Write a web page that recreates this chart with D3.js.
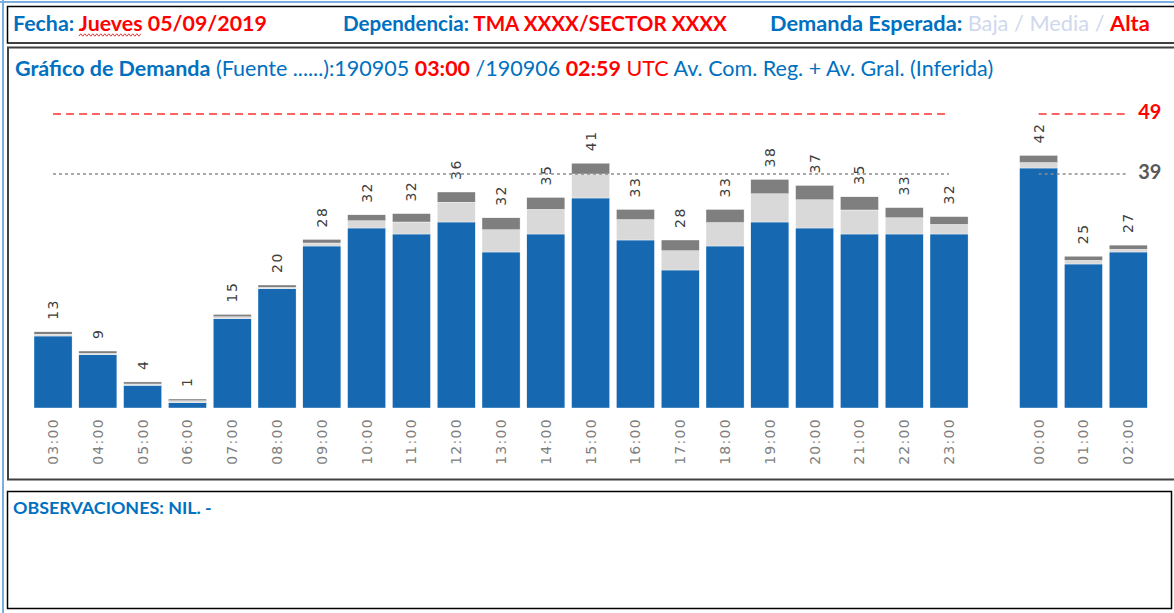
<!DOCTYPE html>
<html>
<head>
<meta charset="utf-8">
<title>Gráfico de Demanda</title>
<script src="https://d3js.org/d3.v7.min.js"></script>
<style>
  body { margin: 0; background: #fff; }
  svg { display: block; }
</style>
</head>
<body>
<svg id="chart" width="1174" height="613"></svg>
<script>
// horas del dia (03:00 UTC -> 02:59 UTC del dia siguiente)
const hours = ["03:00","04:00","05:00","06:00","07:00","08:00","09:00","10:00","11:00","12:00",
  "13:00","14:00","15:00","16:00","17:00","18:00","19:00","20:00","21:00","22:00","23:00",
  "00:00","01:00","02:00"];
// segmentos apilados
const avComReg = [12, 8.9, 3.8, 0.9, 14.9, 19.9, 27, 30, 29, 31, 26, 29, 35, 28, 23, 27, 31, 30, 29, 29, 29, 40, 24, 26];
const avGral   = [0.3, 0.2, 0.2, 0.3, 0.3, 0.2, 0.5, 1.2, 2, 3.3, 3.7, 4.1, 4, 3.4, 3.2, 3.9, 4.7, 4.7, 4, 2.7, 1.6, 0.9, 0.6, 0.45];
const inferida = [0.4, 0.4, 0.35, 0.3, 0.4, 0.4, 0.6, 1, 1.4, 1.7, 2, 2, 1.8, 1.7, 1.8, 2.2, 2.4, 2.4, 2.2, 1.7, 1.3, 1.2, 0.7, 0.7];
// etiquetas de total
const totals = [13, 9, 4, 1, 15, 20, 28, 32, 32, 36, 32, 35, 41, 33, 28, 33, 38, 37, 35, 33, 32, 42, 25, 27];
// umbrales
const thresholds = [49, 39];
const thresholdColors = ["#ff0000", "#595959"];

const BLUE = "#0070c0", RED = "#ff0000";
const svg = d3.select("#chart");
const font = "Lato, 'Open Sans', sans-serif";

// marcos
svg.append("line").attr("x1", 3).attr("x2", 3).attr("y1", 0).attr("y2", 613)
  .attr("stroke", "#7aaee0").attr("stroke-width", 2);
svg.append("line").attr("x1", 0).attr("x2", 1174).attr("y1", 2).attr("y2", 2)
  .attr("stroke", "#7aaee0").attr("stroke-width", 2);
svg.append("rect").attr("x", 7.5).attr("y", 6.5).attr("width", 1200).attr("height", 36.5)
  .attr("fill", "none").attr("stroke", "#000").attr("stroke-width", 1.5);
svg.append("rect").attr("x", 8).attr("y", 47.5).attr("width", 1200).attr("height", 432)
  .attr("fill", "none").attr("stroke", "#404040").attr("stroke-width", 2);
svg.append("rect").attr("x", 7.5).attr("y", 491.5).attr("width", 1164).attr("height", 117)
  .attr("fill", "none").attr("stroke", "#000").attr("stroke-width", 1.5);

// texto compuesto de varios tramos, ajustado a un ancho
function richText(x, y, parts, width, baseSize) {
  const t = svg.append("text").attr("x", x).attr("y", y)
    .style("font-family", font).style("font-size", baseSize + "px");
  parts.forEach(p => {
    t.append("tspan").text(p[0]).attr("fill", p[1])
      .style("font-weight", p[2] ? "bold" : "normal")
      .attr("xml:space", "preserve");
  });
  const w = t.node().getComputedTextLength();
  t.style("font-size", (baseSize * width / w) + "px");
  return t;
}

const fecha = richText(13, 31, [["Fecha: ", BLUE, 1], ["Jueves", RED, 1], [" 05/09/2019", RED, 1]], 254, 18);
richText(343, 31, [["Dependencia: ", BLUE, 1], ["TMA XXXX/SECTOR XXXX", RED, 1]], 384, 18);
richText(770, 31, [["Demanda Esperada: ", BLUE, 1], ["Baja / Media / ", "#d0d8ee", 0], ["Alta", RED, 1]], 380, 18);

// subrayado ondulado bajo "Jueves"
(function () {
  const n = fecha.node();
  const x0 = n.getStartPositionOfChar(7).x, x1 = n.getEndPositionOfChar(12).x;
  const pts = [];
  for (let xx = x0, k = 0; xx <= x1; xx += 2, k++) pts.push([xx, 35 + (k % 2 ? -1.2 : 1.2)]);
  svg.append("path").attr("d", d3.line()(pts)).attr("fill", "none")
    .attr("stroke", "#e03030").attr("stroke-width", 1);
})();

richText(15, 76, [["Gráfico de Demanda", BLUE, 1], [" (Fuente ......):190905 ", BLUE, 0], ["03:00", RED, 1],
  [" /190906 ", BLUE, 0], ["02:59", RED, 1], [" UTC ", RED, 0], ["Av. Com. Reg. + Av. Gral. (Inferida)", BLUE, 0]], 979, 18);

richText(13, 514, [["OBSERVACIONES: NIL. -", BLUE, 1]], 199, 15);

// escalas
const domain = hours.slice(0, 21).concat([""], hours.slice(21));
const x = d3.scaleBand().domain(domain).range([30.64, 1150.64]).paddingInner(0.15).paddingOuter(0.075);
const y = d3.scaleLinear().domain([0, 49]).range([408, 114]);

const rows = hours.map((h, i) => ({ hour: h, avComReg: avComReg[i], avGral: avGral[i], inferida: inferida[i], total: totals[i] }));
const keys = ["avComReg", "avGral", "inferida"];
const colors = { avComReg: "#1668b1", avGral: "#d9d9d9", inferida: "#7f7f7f" };
const series = d3.stack().keys(keys)(rows);

const g = svg.append("g");
g.selectAll("g.serie").data(series).enter().append("g").attr("class", "serie")
  .attr("fill", d => colors[d.key])
  .selectAll("rect").data(d => d).enter().append("rect")
  .attr("x", d => x(d.data.hour))
  .attr("width", x.bandwidth())
  .attr("y", d => y(d[1]))
  .attr("height", d => y(d[0]) - y(d[1]))
  .attr("stroke", "#ffffff").attr("stroke-width", 0.4);

// totales
g.selectAll("text.total").data(series[series.length - 1]).enter().append("text")
  .attr("class", "total")
  .attr("transform", d => "translate(" + (x(d.data.hour) + x.bandwidth() / 2) + "," + (y(d[1]) - 12) + ") rotate(-90)")
  .attr("dy", "0.35em")
  .style("font-family", "'DejaVu Sans', sans-serif").style("font-size", "14px")
  .style("letter-spacing", "1.5px")
  .attr("fill", "#404040")
  .text(d => d.data.total);

// eje x
const ax = svg.append("g").attr("transform", "translate(0,418)")
  .call(d3.axisBottom(x).tickValues(hours).tickSize(0).tickPadding(0));
ax.select(".domain").remove();
ax.selectAll("text")
  .attr("transform", "rotate(-90)")
  .attr("x", 0).attr("y", 0).attr("dy", "0.35em")
  .style("text-anchor", "end")
  .style("font-family", "'DejaVu Sans', sans-serif").style("font-size", "14px")
  .style("letter-spacing", "1.3px")
  .attr("fill", "#808080");

// lineas de umbral, cortadas en el hueco entre 23:00 y 00:00
const groups = [hours.slice(0, 21), hours.slice(21)];
const cx = h => x(h) + x.bandwidth() / 2;
thresholds.forEach((v, i) => {
  groups.forEach(grp => {
    svg.append("path")
      .attr("d", d3.line().x(cx).y(() => y(v))(grp))
      .attr("fill", "none")
      .attr("stroke", i === 0 ? "#ff3030" : "#8c8c8c")
      .attr("stroke-width", 1.3)
      .attr("stroke-dasharray", i === 0 ? "8,5" : "3,3");
  });
  svg.append("text")
    .attr("x", cx(hours[hours.length - 1]) + 10)
    .attr("y", y(v) - 2).attr("dy", "0.35em")
    .style("font-family", font).style("font-weight", "bold").style("font-size", "20px")
    .attr("fill", thresholdColors[i])
    .text(v);
});
</script>
</body>
</html>
